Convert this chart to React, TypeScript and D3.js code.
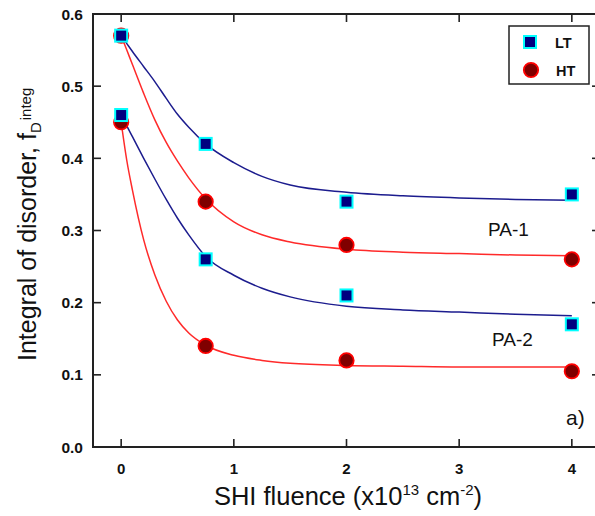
import React from "react";
import * as d3 from "d3";

// Measured points
const fluence = [0, 0.75, 2, 4];
const ltPA1 = [0.57, 0.42, 0.34, 0.35];
const htPA1 = [0.57, 0.34, 0.28, 0.26];
const ltPA2 = [0.46, 0.26, 0.21, 0.17];
const htPA2 = [0.45, 0.14, 0.12, 0.105];

// Fitted curves
const fitX = [0, 0.05, 0.1, 0.2, 0.3, 0.4, 0.5, 0.6, 0.75, 1.0, 1.25, 1.5, 2.0, 2.5, 3.0, 3.5, 4.0];
const fitLtPA1 = [0.57, 0.559, 0.548, 0.527, 0.506, 0.483, 0.461, 0.443, 0.42, 0.394, 0.375, 0.363, 0.353, 0.348, 0.345, 0.343, 0.342];
const fitHtPA1 = [0.57, 0.55, 0.53, 0.49, 0.453, 0.422, 0.396, 0.373, 0.344, 0.312, 0.294, 0.284, 0.274, 0.27, 0.268, 0.266, 0.265];
const fitLtPA2 = [0.461, 0.445, 0.43, 0.4, 0.371, 0.343, 0.317, 0.294, 0.264, 0.238, 0.22, 0.208, 0.195, 0.19, 0.187, 0.184, 0.182];
const fitHtPA2 = [0.45, 0.397, 0.356, 0.287, 0.238, 0.202, 0.176, 0.158, 0.141, 0.127, 0.12, 0.116, 0.113, 0.112, 0.111, 0.111, 0.111];

const xTicks = [0, 1, 2, 3, 4];
const yTicks = [0, 0.1, 0.2, 0.3, 0.4, 0.5, 0.6];
const legendLabels = ["LT", "HT"];
const groupLabels = ["PA-1", "PA-2"];

const W = 595;
const H = 516;
const FONT = "'Liberation Sans', Arial, Helvetica, sans-serif";

const BLUE_LINE = "#1c1c8e";
const RED_LINE = "#ff2a2a";
const SQ_FILL = "#000080";
const SQ_STROKE = "#00ffff";
const CI_FILL = "#800000";
const CI_STROKE = "#ff0000";
const AXIS = "#222";

export default function App() {
  const x = d3.scaleLinear().domain([-0.25, 4.25]).range([93, 600]);
  const y = d3.scaleLinear().domain([0, 0.6]).range([447, 14]);
  const [x0, x1] = x.range();
  const [yb, yt] = y.range();

  const line = d3
    .line<[number, number]>()
    .x((d) => x(d[0]))
    .y((d) => y(d[1]))
    .curve(d3.curveMonotoneX);

  const fitPath = (vals: number[]) =>
    line(fitX.map((v, i) => [v, vals[i]] as [number, number])) || "";

  const sq = 12;
  const r = 7.2;
  const tick = 8;

  const squares = (vals: number[], key: string) =>
    vals.map((v, i) => (
      <rect
        key={key + i}
        x={x(fluence[i]) - sq / 2}
        y={y(v) - sq / 2}
        width={sq}
        height={sq}
        fill={SQ_FILL}
        stroke={SQ_STROKE}
        strokeWidth={2}
      />
    ));
  const circles = (vals: number[], key: string) =>
    vals.map((v, i) => (
      <circle
        key={key + i}
        cx={x(fluence[i])}
        cy={y(v)}
        r={r}
        fill={CI_FILL}
        stroke={CI_STROKE}
        strokeWidth={1.8}
      />
    ));

  return (
    <svg
      width={W}
      height={H}
      style={{ position: "absolute", left: 0, top: 0, background: "#fff" }}
      fontFamily={FONT}
    >
      <rect x={0} y={0} width={W} height={H} fill="#fff" />

      {/* fitted curves */}
      <path d={fitPath(fitHtPA1)} fill="none" stroke={RED_LINE} strokeWidth={1.5} />
      <path d={fitPath(fitHtPA2)} fill="none" stroke={RED_LINE} strokeWidth={1.5} />
      <path d={fitPath(fitLtPA1)} fill="none" stroke={BLUE_LINE} strokeWidth={1.5} />
      <path d={fitPath(fitLtPA2)} fill="none" stroke={BLUE_LINE} strokeWidth={1.5} />

      {/* markers */}
      {circles(htPA1, "h1")}
      {circles(htPA2, "h2")}
      {squares(ltPA1, "l1")}
      {squares(ltPA2, "l2")}

      {/* frame */}
      <rect
        x={x0}
        y={yt}
        width={x1 - x0}
        height={yb - yt}
        fill="none"
        stroke={AXIS}
        strokeWidth={2}
      />
      {xTicks.map((t) => (
        <g key={"xt" + t}>
          <line x1={x(t)} x2={x(t)} y1={yb} y2={yb - tick} stroke={AXIS} strokeWidth={1.6} />
          <line x1={x(t)} x2={x(t)} y1={yt} y2={yt + tick} stroke={AXIS} strokeWidth={1.6} />
          <text
            x={x(t)}
            y={474}
            textAnchor="middle"
            fontSize={15}
            fontWeight="bold"
            fill="#111"
          >
            {d3.format("d")(t)}
          </text>
        </g>
      ))}
      {yTicks.map((t) => (
        <g key={"yt" + t}>
          <line x1={x0} x2={x0 + tick} y1={y(t)} y2={y(t)} stroke={AXIS} strokeWidth={1.6} />
          <line x1={x1} x2={x1 - tick} y1={y(t)} y2={y(t)} stroke={AXIS} strokeWidth={1.6} />
          <text
            x={83}
            y={y(t) + 5.5}
            textAnchor="end"
            fontSize={15.5}
            fontWeight="bold"
            fill="#111"
          >
            {d3.format(".1f")(t)}
          </text>
        </g>
      ))}

      {/* group labels */}
      <text x={488} y={236} fontSize={19} fill="#111">
        {groupLabels[0]}
      </text>
      <text x={492} y={346} fontSize={19} fill="#111">
        {groupLabels[1]}
      </text>

      {/* legend */}
      <rect x={509} y={26} width={80} height={58} fill="#fff" stroke={AXIS} strokeWidth={1.5} />
      <rect
        x={530 - sq / 2}
        y={42 - sq / 2}
        width={sq}
        height={sq}
        fill={SQ_FILL}
        stroke={SQ_STROKE}
        strokeWidth={2}
      />
      <text x={555} y={47.5} fontSize={14.5} fontWeight="bold" fill="#111">
        {legendLabels[0]}
      </text>
      <circle cx={531} cy={70} r={r} fill={CI_FILL} stroke={CI_STROKE} strokeWidth={1.8} />
      <text x={556} y={75.5} fontSize={14.5} fontWeight="bold" fill="#111">
        {legendLabels[1]}
      </text>

      {/* panel tag */}
      <text x={566} y={425} fontSize={21} fill="#111">
        a)
      </text>

      {/* x label */}
      <text x={348} y={505} fontSize={25.5} fill="#111" textAnchor="middle">
        SHI fluence (x10
        <tspan fontSize={15} dy={-10}>13</tspan>
        <tspan dy={10}> cm</tspan>
        <tspan fontSize={15} dy={-10}>-2</tspan>
        <tspan dy={10}>)</tspan>
      </text>

      {/* y label */}
      <text transform="translate(36,361) rotate(-90)" fontSize={25} fill="#111">
        Integral of disorder, f
        <tspan fontSize={15} dy={5}>D</tspan>
        <tspan fontSize={15} dx={2} dy={-10}>integ</tspan>
      </text>
    </svg>
  );
}
